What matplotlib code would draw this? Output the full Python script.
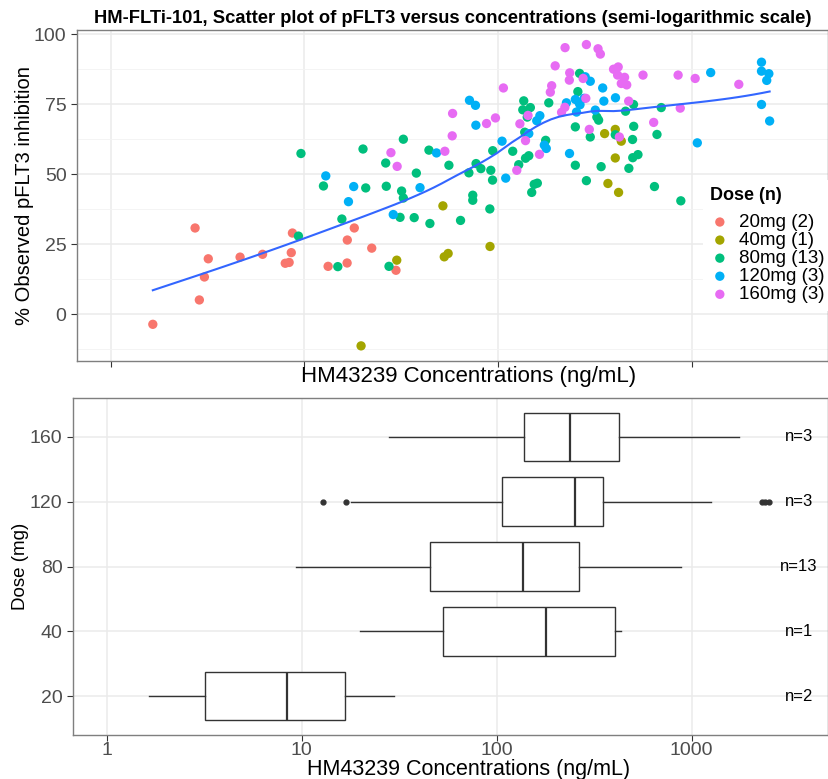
import matplotlib.pyplot as plt
import numpy as np

plt.rcParams['font.family'] = ['Liberation Sans', 'DejaVu Sans']

# Scatter data: log10 concentration (ng/mL) and % observed pFLT3 inhibition
dose_labels = ["20mg (2)", "40mg (1)", "80mg (13)", "120mg (3)", "160mg (3)"]
dose_colors = ["#F8766D", "#A3A500", "#00BF7D", "#00B0F6", "#E76BF3"]

logc_20 = [0.218, 0.458, 0.484, 0.436, 0.504, 0.668, 0.784, 0.901, 0.921, 0.932,
           0.938, 1.122, 1.220, 1.221, 1.257, 1.347, 1.472]
inh_20 = [-3.6, 5.1, 13.3, 30.8, 19.8, 20.4, 21.4, 18.2, 18.5, 22.0,
          29.0, 17.1, 18.3, 26.5, 30.8, 23.6, 15.7]

logc_40 = [1.292, 1.476, 1.714, 1.721, 1.741, 1.957, 2.548, 2.603, 2.634, 2.603,
           2.565, 2.620]
inh_40 = [-11.3, 19.3, 38.7, 20.5, 21.7, 24.2, 64.5, 66.0, 61.8, 55.8,
          46.7, 43.5]

logc_80 = [0.982, 0.969, 1.172, 1.302, 1.419, 1.098, 1.316, 1.422, 1.193, 1.436,
           1.510, 1.501, 1.510, 1.577, 1.642, 1.493, 1.566, 1.647, 1.745, 1.848,
           1.885, 1.910, 1.868, 1.868, 1.961, 1.970, 1.956, 1.805, 1.971, 2.074,
           2.131, 2.126, 2.165, 2.149, 2.136, 2.244, 2.260, 2.105, 2.140, 2.157,
           2.185, 2.201, 2.172, 2.419, 2.410, 2.397, 2.474, 2.508, 2.517, 2.603,
           2.656, 2.697, 2.698, 2.692, 2.397, 2.454, 2.530, 2.673, 2.693, 2.720,
           2.805, 2.941, 2.818, 2.840]
inh_80 = [57.4, 27.9, 17.0, 59.0, 54.0, 45.8, 45.1, 45.7, 34.0, 17.1,
          62.5, 44.0, 41.5, 50.4, 58.6, 34.6, 34.5, 32.4, 53.2, 50.5,
          53.8, 52.0, 42.5, 40.7, 51.4, 47.9, 37.6, 33.5, 58.4, 58.2,
          76.2, 73.0, 73.8, 70.4, 65.0, 62.1, 75.5, 53.4, 55.7, 56.6,
          46.4, 46.8, 43.5, 86.0, 79.5, 66.9, 63.3, 70.4, 69.3, 64.1,
          72.5, 74.9, 67.1, 62.4, 53.2, 47.7, 52.7, 52.1, 55.9, 57.0,
          45.6, 40.5, 64.2, 73.8]

logc_120 = [1.110, 1.254, 1.227, 1.458, 1.596, 1.681, 1.851, 1.882, 1.884, 2.019,
            2.038, 2.157, 2.198, 2.214, 2.237, 2.247, 2.367, 2.351, 2.397, 2.416,
            2.421, 2.403, 2.448, 2.474, 2.442, 2.500, 2.538, 2.544, 2.604, 3.026,
            3.095, 3.357, 3.357, 3.395, 3.384, 3.357, 3.399]
inh_120 = [49.4, 45.6, 40.2, 35.6, 45.2, 57.6, 76.4, 74.6, 67.5, 61.8,
           48.6, 64.5, 69.1, 70.9, 60.4, 59.2, 57.4, 75.5, 76.7, 75.6,
           74.8, 72.2, 84.8, 83.2, 77.1, 72.9, 80.8, 76.1, 77.3, 61.2,
           86.3, 90.0, 86.8, 85.9, 83.5, 74.9, 69.0]

logc_160 = [1.446, 1.478, 1.764, 1.762, 1.724, 1.939, 1.985, 2.026, 2.095, 2.111,
            2.140, 2.153, 2.212, 2.293, 2.275, 2.268, 2.344, 2.368, 2.366, 2.326,
            2.343, 2.454, 2.514, 2.526, 2.437, 2.451, 2.469, 2.594, 2.618, 2.615,
            2.651, 2.634, 2.662, 2.672, 2.624, 2.746, 2.801, 2.927, 2.938, 3.015,
            3.240]
inh_160 = [57.7, 52.8, 71.7, 63.7, 58.2, 68.1, 70.1, 80.8, 51.4, 68.0,
           62.0, 71.0, 57.1, 88.7, 81.6, 79.3, 95.2, 86.2, 83.6, 72.1,
           73.9, 96.3, 94.8, 92.9, 84.2, 77.1, 66.0, 87.5, 88.3, 85.4,
           84.6, 82.4, 81.9, 76.1, 63.3, 85.4, 68.5, 85.4, 73.6, 84.2,
           82.1]

# Box plot summaries per dose (ng/mL)
box_doses = ["20", "40", "80", "120", "160"]
box_n = ["n=2", "n=1", "n=13", "n=3", "n=3"]
box_q1 = [3.2, 53, 45.8, 106, 139]
box_med = [8.4, 180, 137, 251, 237]
box_q3 = [16.7, 405, 266, 353, 425]
box_lo = [1.65, 19.9, 9.4, 18.0, 28.2]
box_hi = [29.9, 435, 881, 1253, 1754]
box_fliers = [[], [], [], [12.9, 16.9, 2290, 2390, 2510], []]


def loess(x, y, xs, span=0.75):
    # local quadratic fit with tricube weights, like ggplot's geom_smooth
    n = len(x)
    q = int(np.floor(n * span))
    fit = []
    for x0 in xs:
        d = np.abs(x - x0)
        h = np.sort(d)[q - 1]
        w = np.clip(1 - (d / h) ** 3, 0, None) ** 3
        X = np.column_stack([np.ones(n), x - x0, (x - x0) ** 2])
        sw = np.sqrt(w)
        beta = np.linalg.lstsq(X * sw[:, None], y * sw, rcond=None)[0]
        fit.append(beta[0])
    return np.array(fit)


groups = [(logc_20, inh_20), (logc_40, inh_40), (logc_80, inh_80),
          (logc_120, inh_120), (logc_160, inh_160)]

W, H = 829, 779
fig = plt.figure(figsize=(W / 100, H / 100), dpi=100)
ax1 = fig.add_axes([77 / W, 1 - 361 / H, (828 - 77) / W, (361 - 30) / H])
ax2 = fig.add_axes([73 / W, 1 - 735 / H, (828 - 73) / W, (735 - 398) / H])

xlim = (10 ** -0.173, 10 ** 3.70)
grid_major = "#EBEBEB"
border = "#7F7F7F"

# top panel: scatter + smooth
for (lc, inh), col, lab in zip(groups, dose_colors, dose_labels):
    ax1.scatter(10 ** np.array(lc), inh, s=45, color=col, label=lab,
                edgecolors="none", zorder=3)

all_x = np.concatenate([np.array(g[0]) for g in groups])
all_y = np.concatenate([np.array(g[1]) for g in groups])
xs = np.linspace(all_x.min(), all_x.max(), 80)
ax1.plot(10 ** xs, loess(all_x, all_y, xs), color="#3366FF", lw=1.5, zorder=4)

ax1.set_xscale("log")
ax1.set_xlim(xlim)
ax1.set_ylim(-16.7, 101.5)
ax1.set_xticks([1, 10, 100, 1000])
ax1.set_xticklabels([])
ax1.xaxis.set_minor_locator(plt.NullLocator())
ax1.set_yticks([0, 25, 50, 75, 100])
ax1.set_yticks([-12.5, 12.5, 37.5, 62.5, 87.5], minor=True)
ax1.grid(True, which="major", color=grid_major, lw=1.1, zorder=0)
ax1.grid(True, which="minor", axis="y", color="#F3F3F3", lw=0.6, zorder=0)
ax1.tick_params(axis="y", which="minor", length=0)
ax1.tick_params(axis="both", which="major", labelsize=14, labelcolor="#4D4D4D",
                color="#333333", length=4)
ax1.set_ylabel("% Observed pFLT3 inhibition", fontsize=14.5, labelpad=0)
ax1.set_xlabel("HM43239 Concentrations (ng/mL)", fontsize=16)
ax1.xaxis.set_label_coords(0.522, -0.015)
ax1.set_title("HM-FLTi-101, Scatter plot of pFLT3 versus concentrations "
              "(semi-logarithmic scale)", fontsize=13.2, fontweight="bold", pad=5)
ax1.set_axisbelow(True)
leg = ax1.legend(title="Dose (n)", loc="center left", bbox_to_anchor=(0.8335, 0.35),
                 fontsize=13.5, title_fontproperties={"weight": "bold", "size": 13},
                 frameon=True, facecolor="white", edgecolor="none", framealpha=1,
                 fancybox=False, handlelength=1.0, handletextpad=0.5,
                 labelspacing=0.05, borderpad=0.4, borderaxespad=0)
leg._legend_box.align = "left"
leg._legend_box.sep = 7

# bottom panel: box plots
stats = []
for i in range(len(box_doses)):
    stats.append({"med": box_med[i], "q1": box_q1[i], "q3": box_q3[i],
                  "whislo": box_lo[i], "whishi": box_hi[i],
                  "fliers": box_fliers[i]})
pos = np.arange(1, len(box_doses) + 1)
ax2.bxp(stats, positions=pos, vert=False, widths=0.75, showcaps=False,
        patch_artist=True,
        boxprops={"facecolor": "white", "edgecolor": "#333333", "lw": 1},
        medianprops={"color": "#333333", "lw": 1.6},
        whiskerprops={"color": "#333333", "lw": 1},
        flierprops={"marker": "o", "markersize": 3.5, "markerfacecolor": "#333333",
                    "markeredgecolor": "#333333"})
for p, lab in zip(pos, box_n):
    ax2.text(3550, p, lab, ha="center", va="center", fontsize=12)

ax2.set_xscale("log")
ax2.set_xlim(xlim)
ax2.set_ylim(0.4, 5.6)
ax2.set_xticks([1, 10, 100, 1000])
ax2.set_xticklabels(["1", "10", "100", "1000"])
ax2.xaxis.set_minor_locator(plt.NullLocator())
ax2.set_yticks(pos)
ax2.set_yticklabels(box_doses)
ax2.grid(True, color=grid_major, lw=1.1, zorder=0)
ax2.set_axisbelow(True)
ax2.tick_params(axis="both", labelsize=14, labelcolor="#4D4D4D",
                color="#333333", length=4)
ax2.tick_params(axis="x", pad=1)
ax2.set_ylabel("Dose (mg)", fontsize=13.5, labelpad=1)
ax2.set_xlabel("HM43239 Concentrations (ng/mL)", fontsize=15.5)
ax2.xaxis.set_label_coords(0.524, -0.07)

for ax in (ax1, ax2):
    for sp in ax.spines.values():
        sp.set_color(border)
        sp.set_linewidth(1)

fig.savefig("out.png", dpi=100)
